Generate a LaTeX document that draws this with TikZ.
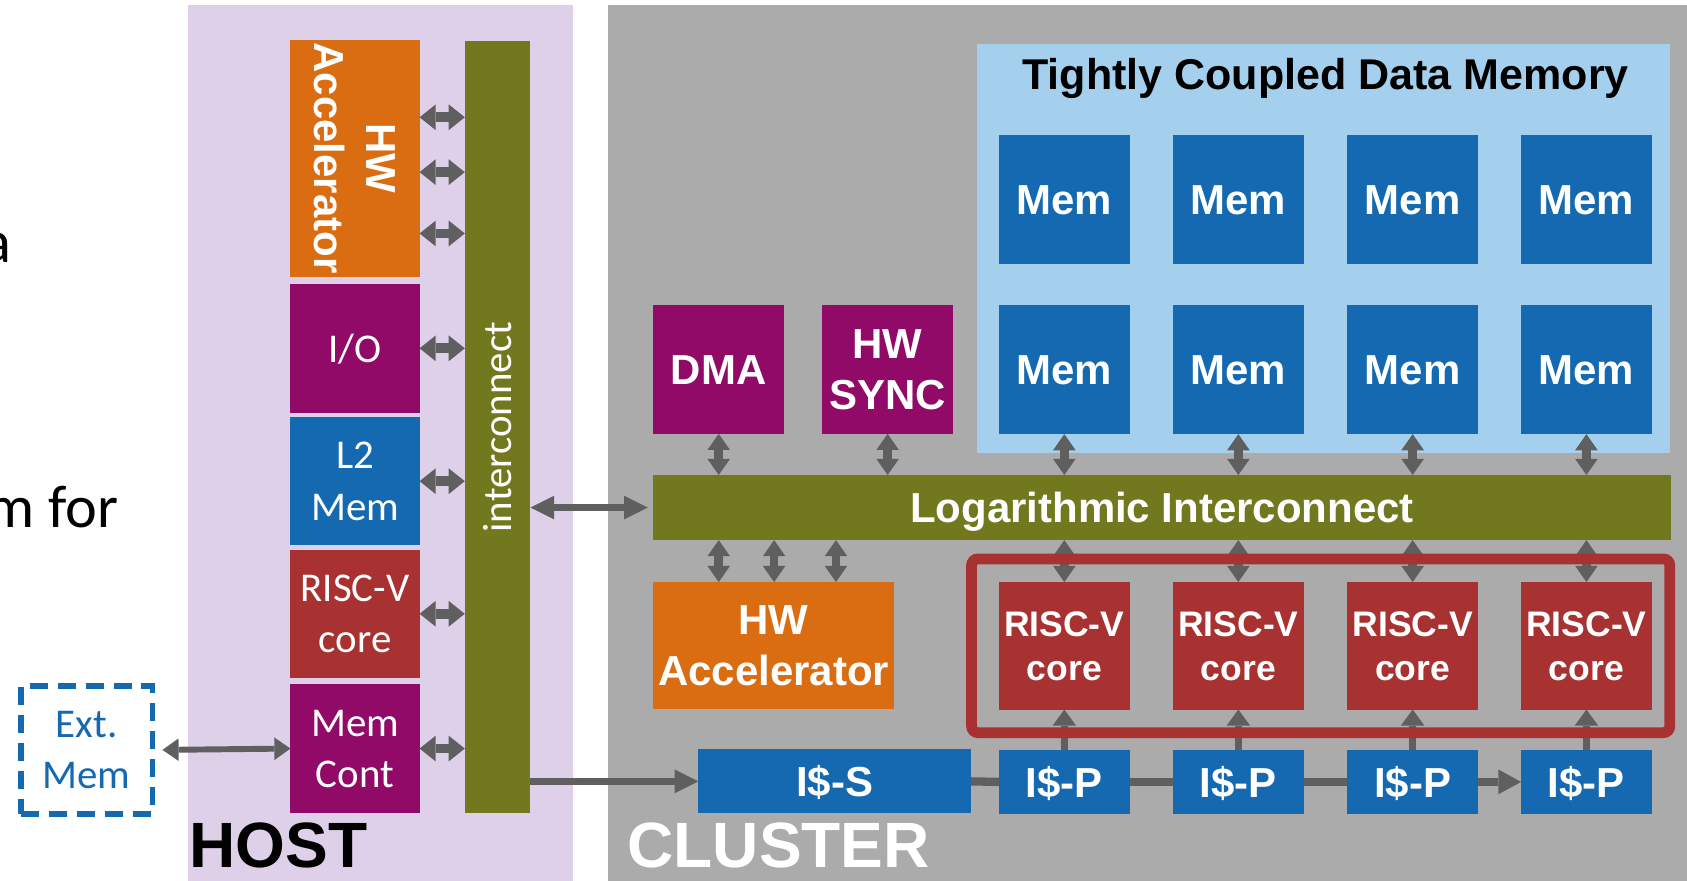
\documentclass[tikz,border=0pt]{standalone}
\usepackage{fontspec}
\setmainfont{Liberation Sans}
\newfontfamily\calib{Carlito}
\usetikzlibrary{arrows.meta,calc}

\definecolor{hostbg}{RGB}{221,208,232}
\definecolor{clbg}{RGB}{171,171,171}
\definecolor{tcdmbg}{RGB}{164,208,238}
\definecolor{mblue}{RGB}{20,105,176}
\definecolor{mpurple}{RGB}{146,10,103}
\definecolor{morange}{RGB}{218,108,18}
\definecolor{mred}{RGB}{168,50,50}
\definecolor{molive}{RGB}{114,120,30}
\definecolor{agray}{RGB}{95,95,95}

\begin{document}
\begin{tikzpicture}[x=1pt,y=-1pt,
  bg/.style={inner sep=0pt, outer sep=0pt, draw=none},
  blk/.style={inner sep=0pt, outer sep=0pt, text=white, align=center,
              minimum width=121.5pt, minimum height=119.5pt},
  bt/.style={font=\bfseries\fontsize{39}{48}\selectfont, text depth=0pt},
  ct/.style={font=\calib\fontsize{38}{47.5}\selectfont, text depth=0pt},
  harr/.style={draw=agray, line width=9pt,
     arrows={Triangle[width=24pt,length=15pt,line width=0pt]-Triangle[width=24pt,length=15pt,line width=0pt]}},
  earr/.style={draw=agray, line width=5.5pt,
     arrows={Triangle[width=21pt,length=15pt,line width=0pt]-Triangle[width=21pt,length=15pt,line width=0pt]}},
  larr/.style={draw=agray, line width=6.5pt,
     arrows={Triangle[width=22pt,length=22pt,line width=0pt]-Triangle[width=22pt,length=22pt,line width=0pt]}},
  sarr/.style={draw=agray, line width=7pt,
     arrows={-Triangle[width=22pt,length=22pt,line width=0pt]}},
  varr/.style={draw=agray, line width=8pt,
     arrows={Triangle[width=21pt,length=15pt,line width=0pt]-Triangle[width=21pt,length=15pt,line width=0pt]}},
  uarr/.style={draw=agray, line width=7pt,
     arrows={-Triangle[width=22pt,length=15pt,line width=0pt]}},
  chainln/.style={draw=agray, line width=7.7pt},
  sect/.style={anchor=base west, inner sep=0pt, font=\bfseries\fontsize{59.5}{60}\selectfont},
]
\useasboundingbox (0,0) rectangle (1568,818);

% slide text remnants at the left edge
\node[anchor=base east, inner sep=0pt, font=\calib\fontsize{56}{60}\selectfont] (lefta) at (11,244) {a};
\node[anchor=base east, inner sep=0pt, font=\calib\fontsize{56}{60}\selectfont] (leftm) at (110,490) {m for};

% backgrounds
\node[bg, fill=hostbg, minimum width=358pt, minimum height=815pt] (host) at (354,412.5) {};
\node[bg, fill=clbg, minimum width=1005pt, minimum height=815pt] (cluster) at (1067.5,412.5) {};
\node[bg, fill=tcdmbg, minimum width=644pt, minimum height=380pt] (tcdm) at (1230.5,231) {};

% host blocks
\node[blk, fill=morange, minimum width=120pt, minimum height=220pt] (hacc) at (330,147) {};
\node[rotate=-90, text=white, align=center, bt, inner sep=0pt] (hacctxt) at (hacc.center) {HW\\Accelerator};
\node[blk, ct, fill=mpurple, minimum width=120pt, minimum height=119.5pt] (io) at (330,323.75) {I/O};
\node[blk, ct, fill=mblue, minimum width=120pt, minimum height=118.5pt] (l2) at (330,447.25) {L2\\Mem};
\node[blk, ct, fill=mred, minimum width=120pt, minimum height=119pt] (hrisc) at (330,570.5) {RISC-V\\core};
\node[blk, ct, fill=mpurple, minimum width=120pt, minimum height=119.5pt] (mcont) at (330,695.75) {Mem\\Cont};
\node[blk, fill=molive, minimum width=61pt, minimum height=718pt] (hic) at (462.5,397) {};
\node[rotate=90, text=white, ct, inner sep=0pt] (hictxt) at (hic.center) {interconnect};

% external memory
\node[draw=mblue, line width=5pt, dash pattern=on 17pt off 9pt, minimum width=122pt,
      minimum height=119pt, text=mblue, ct, align=center, inner sep=0pt] (ext) at (80.5,697) {Ext.\\Mem};

% cluster blocks
\node[anchor=base, inner sep=0pt, font=\bfseries\fontsize{40}{48}\selectfont] (tcdmtitle) at (1232,83) {Tightly Coupled Data Memory};
\node[blk, bt, fill=mpurple] (dma) at (668,343.5) {DMA};
\node[blk, bt, fill=mpurple] (sync) at (825,343.5) {HW\\SYNC};
\foreach \i/\x in {1/989.25,2/1151,3/1313,4/1474.5} {
  \node[blk, bt, fill=mblue, minimum height=120pt] (mt\i) at (\x,185.5) {Mem};
  \node[blk, bt, fill=mblue, minimum height=120pt] (mb\i) at (\x,343.5) {Mem};
  \node[blk, fill=mred, minimum height=118.5pt, text depth=0pt, font=\bfseries\fontsize{33}{41}\selectfont] (core\i) at (\x,600.25) {RISC-V\\core};
  \node[blk, bt, fill=mblue, minimum height=59.5pt] (isp\i) at (\x,726.75) {I\$-P};
}
\node[blk, bt, fill=molive, minimum width=946pt, minimum height=60.5pt] (log) at (1080,471.75) {Logarithmic Interconnect};
\node[blk, bt, fill=morange, minimum width=224pt, minimum height=118pt] (cacc) at (719,600) {HW\\Accelerator};
\node[blk, bt, fill=mblue, minimum width=253.5pt, minimum height=59.5pt] (iss) at (775.75,726.25) {I\$-S};

% host arrows
\coordinate (h1) at ($(hacc.east)+(0,-38)$);
\coordinate (h2) at ($(hacc.east)+(0,13)$);
\coordinate (h3) at ($(hacc.east)+(0,70)$);
\foreach \c in {h1,h2,h3} \draw[harr] (\c) -- (\c -| hic.west);
\foreach \n in {io,l2,hrisc,mcont} \draw[harr] (\n.east) -- (\n.east -| hic.west);
\draw[earr] ($(ext.east)+(7,0)$) -- (mcont.west);

% host to cluster
\coordinate (login) at ($(log.west)+(-5,0)$);
\draw[larr] (hic.east |- log.west) -- (login);
\draw[sarr] (hic.east |- iss.west) -- (iss.west);

% cluster vertical arrows
\draw[varr] (dma.south) -- (dma.south |- log.north);
\draw[varr] (sync.south) -- (sync.south |- log.north);
\foreach \i in {1,...,4} {
  \draw[varr] (mb\i.south) -- (mb\i.south |- log.north);
  \draw[varr] (core\i.north |- log.south) -- (core\i.north);
  \draw[uarr] (isp\i.north) -- (core\i.south);
}
\coordinate (ca1) at ($(cacc.north)+(-51,0)$);
\coordinate (ca2) at ($(cacc.north)+(0.5,0)$);
\coordinate (ca3) at ($(cacc.north)+(58,0)$);
\foreach \c in {ca1,ca2,ca3} \draw[varr] (\c |- log.south) -- (\c);

% instruction cache chain
\draw[chainln] (iss.east) -- (isp1.west);
\draw[chainln] (isp1.east) -- (isp2.west);
\draw[chainln] (isp2.east) -- (isp3.west);
\draw[chainln, arrows={-Triangle[width=23pt,length=21pt,line width=0pt]}] (isp3.east) -- (isp4.west);

% core group outline
\node[draw=mred, line width=10pt, rounded corners=6pt, minimum width=649pt,
      minimum height=161.5pt, inner sep=0pt] (coregrp) at (1227.5,600.25) {};

% section labels
\node[sect] (hostlbl) at (176,806) {HOST};
\node[sect, text=white] (cllbl) at (583,806) {CLUSTER};
\end{tikzpicture}
\end{document}
